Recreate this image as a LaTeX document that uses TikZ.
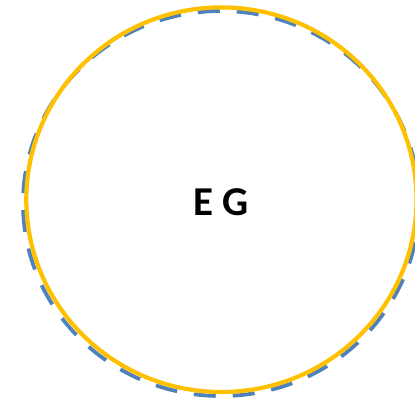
\documentclass[tikz,border=0pt]{standalone}
\usepackage{fontspec}
\setmainfont{Carlito}
\definecolor{egblue}{RGB}{79,129,189}
\definecolor{egorange}{RGB}{255,192,0}
\tikzset{
  bluering/.style={draw=egblue, line width=3.8pt, dash pattern=on 22pt off 17pt},
  orangering/.style={draw=egorange, line width=4.2pt},
  label/.style={font=\fontsize{41}{46}\selectfont\bfseries, text=black, inner sep=0pt}
}
\begin{document}
\begin{tikzpicture}[x=1pt, y=-1pt]
  \useasboundingbox (0,0) rectangle (415,402);
  \clip (0,0) rectangle (415,402);
  \path[bluering] (221,203.5) ellipse [x radius=198, y radius=192.5];
  \path[orangering] (221.4,199.7) ellipse [x radius=195.1, y radius=192.3];
  \node[label] (eg) at (221,202) {E G};
\end{tikzpicture}
\end{document}
